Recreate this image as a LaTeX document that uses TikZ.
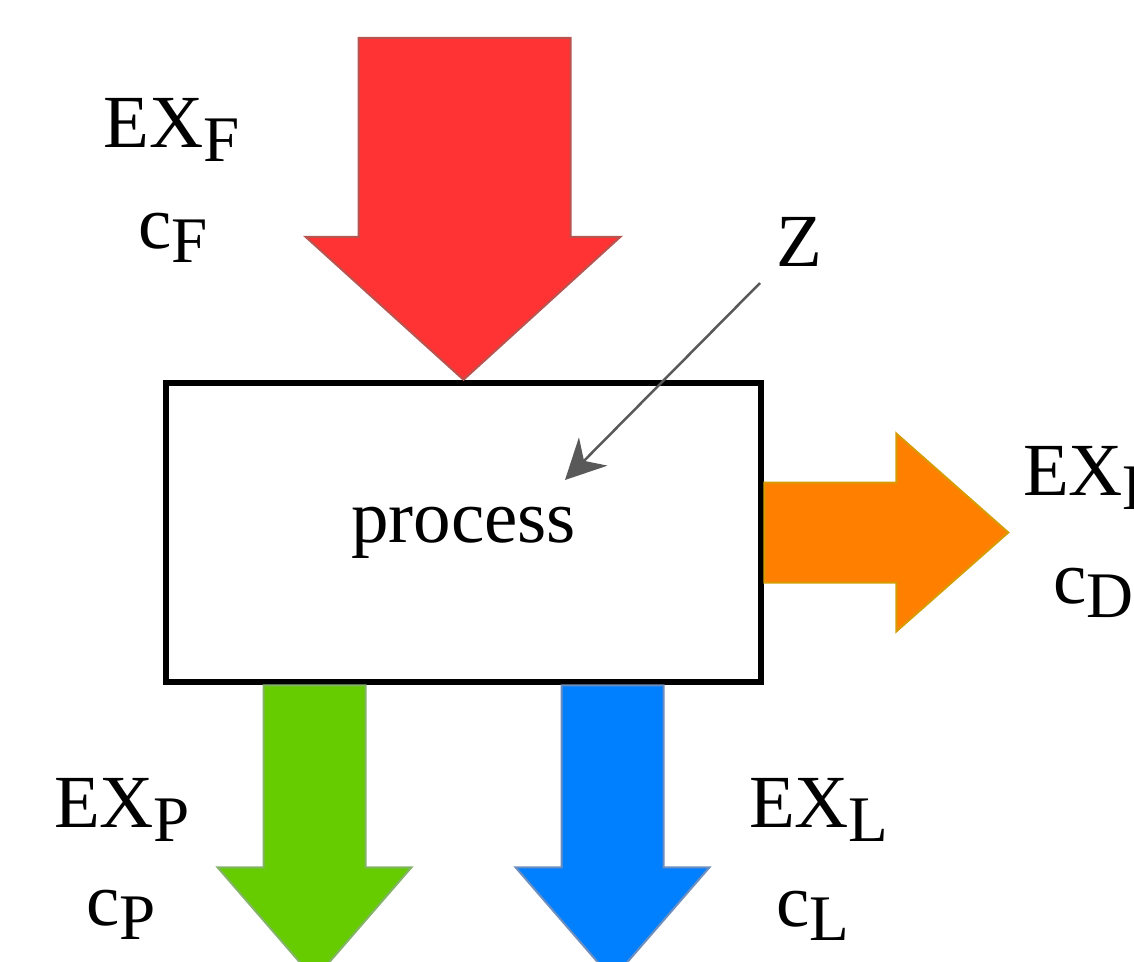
\documentclass[tikz,border=0pt]{standalone}
\usepackage{fontspec}
\setmainfont{Liberation Serif}
\usetikzlibrary{arrows.meta}
\usetikzlibrary{positioning}
\usetikzlibrary{calc}
\definecolor{feedred}{HTML}{FF3333}
\definecolor{feedredline}{HTML}{B85450}
\definecolor{destrorange}{HTML}{FF8000}
\definecolor{destrorangeline}{HTML}{D79B00}
\definecolor{prodgreen}{HTML}{66CC00}
\definecolor{prodgreenline}{HTML}{82B366}
\definecolor{lossblue}{HTML}{007FFF}
\definecolor{lossblueline}{HTML}{6C8EBF}
\definecolor{zgray}{HTML}{595959}
\newcommand{\lsub}[1]{\raisebox{-2.9pt}{\fontsize{13}{15}\selectfont #1}}

\begin{document}
\begin{tikzpicture}[x=0.2pt,y=-0.2pt,
    lbl/.style={anchor=base west,inner sep=0pt,font=\fontsize{15}{18}\selectfont},
    procbox/.style={draw=black,line width=1.3pt,minimum width=119pt,minimum height=59.8pt,font=\fontsize{15}{18}\selectfont},
    bigarrow/.style={line width=0.4pt,line join=miter},
    zarrow/.style={draw=zgray,line width=0.5pt,-{Stealth[length=8pt,width=8pt]}}]
    \useasboundingbox (0,0) rectangle (1134,961);
    \clip (0,0) rectangle (1134,961);

    % process box
    \node[procbox] (proc) at (463.5,532.5) {\raisebox{-2.6pt}{process}};

    % feed (top)
    \fill[bigarrow,fill=feedred,draw=feedredline] (proc.north) -- ++(-158,-143) -- ++(53,0) -- ++(0,-199)
        -- ++(212,0) -- ++(0,199) -- ++(50,0) -- cycle;

    % destruction (right)
    \fill[bigarrow,fill=destrorange,draw=destrorangeline] (proc.east) ++(0,-50) -- ++(132,0) -- ++(0,-49)
        -- ++(112,99) -- ++(-112,99) -- ++(0,-49) -- ++(-132,0) -- cycle;

    % product and loss (bottom)
    \fill[bigarrow,fill=prodgreen,draw=prodgreenline] (proc.south) ++(-200,0) -- ++(0,182) -- ++(-46,0)
        -- ++(97,112) -- ++(97,-112) -- ++(-46,0) -- ++(0,-182) -- cycle;
    \fill[bigarrow,fill=lossblue,draw=lossblueline] (proc.south) ++(98,0) -- ++(0,182) -- ++(-46,0)
        -- ++(97,112) -- ++(97,-112) -- ++(-46,0) -- ++(0,-182) -- cycle;

    % labels
    \node[lbl] (exF) at (103,147) {EX\lsub{F}};
    \node[lbl] (cF)  at (137,248) {c\lsub{F}};
    \node[lbl] (exD) at (1022,495) {EX\lsub{D}};
    \node[lbl] (cD)  at (1052,603) {c\lsub{D}};
    \node[lbl] (exP) at (53,827) {EX\lsub{P}};
    \node[lbl] (cP)  at (85,925) {c\lsub{P}};
    \node[lbl] (exL) at (748,827) {EX\lsub{L}};
    \node[lbl] (cL)  at (775,926) {c\lsub{L}};
    \node[lbl] (z)   at (775,266) {Z};

    % Z into the process
    \coordinate (zstart) at (760,283);
    \coordinate (zend) at (565,480);
    \draw[zarrow] (zstart) -- (zend);
\end{tikzpicture}
\end{document}
